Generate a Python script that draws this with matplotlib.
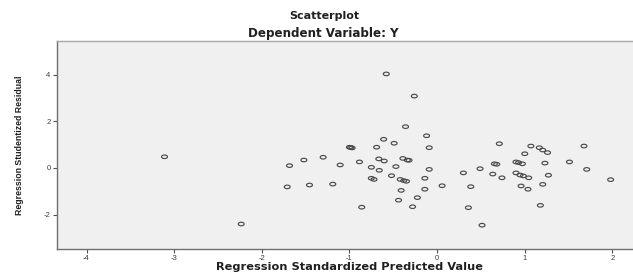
import numpy as np
import matplotlib
matplotlib.use("Agg")
import matplotlib.pyplot as plt
from matplotlib.path import Path

# Data (Regression Standardized Predicted Value, Studentized Residual)
pred = [-3.11, -2.235, -1.684, -1.71, -1.52, -1.30, -1.456, -1.19, -1.106,
        -0.58, -0.26, -0.36, -0.12, -0.61, -0.49, -1.00, -0.97, -0.985, -0.69, -0.09,
        -0.886, -0.665, -0.604, -0.39, -0.34, -0.32, -0.47, -0.75, -0.66, -0.09,
        -0.75, -0.72, -0.52, -0.42, -0.38, -0.35, -0.14,
        -0.41, -0.14, 0.057, -0.225, -0.44, -0.86, -0.28, 0.357, 0.513,
        0.71, 0.30, 0.49, 0.384, 0.635, 0.654, 0.68, 0.74,
        0.90, 0.93, 0.973, 0.90, 0.946, 0.984, 1.045, 0.958, 1.037,
        1.00, 1.07, 1.166, 1.205, 1.26, 1.23, 1.27, 1.205, 1.178,
        1.51, 1.676, 1.707, 1.98]
resid = [0.48, -2.40, 0.10, -0.81, 0.34, 0.46, -0.73, -0.69, 0.13,
         4.03, 3.08, 1.77, 1.38, 1.23, 1.06, 0.89, 0.86, 0.88, 0.89, 0.87,
         0.26, 0.39, 0.30, 0.41, 0.34, 0.33, 0.06, 0.03, -0.10, -0.06,
         -0.44, -0.49, -0.33, -0.49, -0.54, -0.57, -0.44,
         -0.96, -0.91, -0.76, -1.27, -1.38, -1.68, -1.66, -1.70, -2.45,
         1.04, -0.21, -0.03, -0.80, -0.26, 0.18, 0.16, -0.42,
         0.26, 0.23, 0.18, -0.21, -0.30, -0.34, -0.42, -0.77, -0.91,
         0.61, 0.94, 0.87, 0.77, 0.66, 0.21, -0.31, -0.70, -1.60,
         0.26, 0.94, -0.06, -0.50]

xticks = [-4, -3, -2, -1, 0, 1, 2]
yticks = [-2, 0, 2, 4]
title_text = "Scatterplot"
subtitle_text = "Dependent Variable: Y"
xlabel_text = "Regression Standardized Predicted Value"
ylabel_text = "Regression Studentized Residual"

fig = plt.figure(figsize=(6.33, 2.75), dpi=100)
fig.patch.set_facecolor("white")
ax = fig.add_axes([56.7 / 633, 1 - 249 / 275, 1 - 56.7 / 633, (249 - 41) / 275])
ax.set_facecolor("#f0f0f0")

t = np.linspace(0, 2 * np.pi, 40)
ell = Path(np.column_stack([np.cos(t), 0.6 * np.sin(t)]), closed=True)
ax.scatter(pred, resid, marker=ell, s=18, facecolors="none",
           edgecolors="#4a4a4a", linewidths=0.85)

ax.set_xlim(-4.34, 2.235)
ax.set_ylim(-3.47, 5.44)
ax.set_xticks(xticks)
ax.set_yticks(yticks)
ax.set_xticklabels([str(v) for v in xticks])
ax.set_yticklabels([str(v) for v in yticks])

ax.spines["right"].set_visible(False)
ax.spines["left"].set_color("#707070")
ax.spines["bottom"].set_color("#707070")
ax.spines["top"].set_color("#a8a8a8")
for s in ["left", "bottom", "top"]:
    ax.spines[s].set_linewidth(1.0)

ax.tick_params(axis="both", direction="out", length=3, width=0.8, color="#505050",
               labelsize=5.5, labelcolor="#404040", pad=1.5)
for lab in ax.get_xticklabels() + ax.get_yticklabels():
    lab.set_family("Liberation Sans")

ax.set_xlabel(xlabel_text, family="DejaVu Sans", weight="bold", fontsize=8.2,
              color="#202020")
ax.xaxis.set_label_coords((350 - 56.7) / 576.3, -0.0889)
ax.xaxis.label.set_verticalalignment("center")

ax.set_ylabel(ylabel_text, family="Liberation Sans", weight="bold", fontsize=6.3,
              color="#202020")
ax.yaxis.set_label_coords(-0.0637, 0.5)
ax.yaxis.label.set_verticalalignment("center")

fig.text(324 / 633, 1 - 16 / 275, title_text, family="DejaVu Sans",
         weight="bold", fontsize=8.0, ha="center", va="center", color="#202020")
fig.text(323.5 / 633, 1 - 33 / 275, subtitle_text, family="DejaVu Sans",
         weight="bold", fontsize=8.6, ha="center", va="center", color="#202020")

fig.savefig("out.png", dpi=100)
